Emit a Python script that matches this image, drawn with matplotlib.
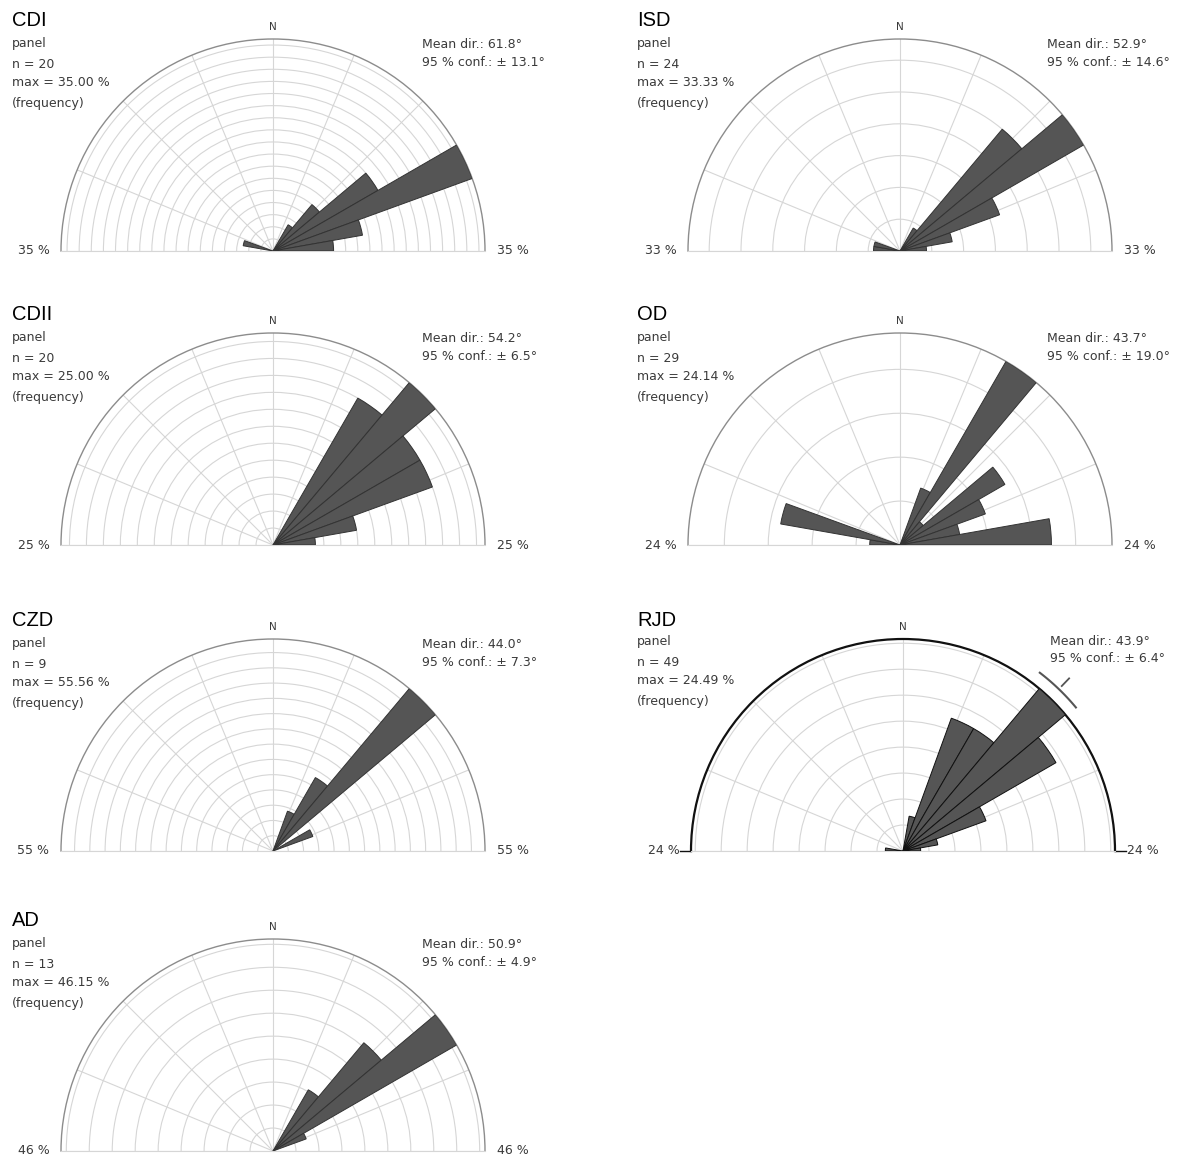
import numpy as np
import matplotlib.pyplot as plt

W, H = 1179, 1157

names = ['CDI', 'ISD', 'CDII', 'OD', 'CZD', 'RJD', 'AD']
sample_n = [20, 24, 20, 29, 9, 49, 13]
mean_dir = [61.8, 52.9, 54.2, 43.7, 44.0, 43.9, 50.9]
conf95 = [13.1, 14.6, 6.5, 19.0, 7.3, 6.4, 4.9]

# start azimuth of each 10 degree bin and the number of panels in it
cdi_bins = [-80, 30, 40, 50, 60, 70, 80]
cdi_counts = [1, 1, 2, 4, 7, 3, 2]
isd_bins = [-90, -80, 30, 40, 50, 60, 70, 80]
isd_counts = [1, 1, 1, 6, 8, 4, 2, 1]
cdii_bins = [30, 40, 50, 60, 70, 80]
cdii_counts = [4, 5, 4, 4, 2, 1]
od_bins = [-90, -80, 20, 30, 40, 50, 60, 70, 80]
od_counts = [1, 4, 2, 7, 1, 4, 3, 2, 5]
czd_bins = [20, 30, 40, 60]
czd_counts = [1, 2, 5, 1]
rjd_bins = [-90, 10, 20, 30, 40, 50, 60, 70, 80]
rjd_counts = [1, 2, 8, 8, 12, 10, 5, 2, 1]
ad_bins = [30, 40, 50, 60]
ad_counts = [2, 4, 6, 1]

all_bins = [cdi_bins, isd_bins, cdii_bins, od_bins, czd_bins, rjd_bins, ad_bins]
all_counts = [cdi_counts, isd_counts, cdii_counts, od_counts, czd_counts,
              rjd_counts, ad_counts]

# layout (pixels)
grid_pos = [(0, 0), (0, 1), (1, 0), (1, 1), (2, 0), (2, 1), (3, 0)]
ring_step = [2, 5, 2, 5, 4, 3, 5]
row_top = [0, 294, 600, 900]
col_left = [12, 637]
col_cx = [273, 900]
R = 212

fig = plt.figure(figsize=(W / 100, H / 100), dpi=100)


def px(x, y):
    return x / W, 1 - y / H


txt_col = '#3a3a3a'
grid_col = '#d6d6d6'

for i, name in enumerate(names):
    row, col = grid_pos[i]
    y0 = row_top[row]
    x0 = col_left[col]
    cx = col_cx[col]
    dy = 0
    if name == 'RJD':
        cx += 3
        dy = -3
    base_y = y0 + 251

    n = sample_n[i]
    pct = np.array(all_counts[i]) / n * 100
    rmax = pct.max()

    fig.text(*px(x0, y0 + 20), name, fontsize=14.5, family='Liberation Sans',
             va='center', ha='left')
    fig.text(*px(x0, y0 + 44 + dy), 'panel', fontsize=9, color=txt_col, va='center')
    fig.text(*px(x0, y0 + 65 + dy), f'n = {n}', fontsize=9, color=txt_col, va='center')
    fig.text(*px(x0, y0 + 83 + dy), f'max = {rmax:.2f} %', fontsize=9,
             color=txt_col, va='center')
    fig.text(*px(x0, y0 + 104 + dy), '(frequency)', fontsize=9, color=txt_col,
             va='center')
    mx = x0 + 410 + (3 if name == 'RJD' else 0)
    fig.text(*px(mx, y0 + 44 + dy), f'Mean dir.: {mean_dir[i]:.1f}°', fontsize=9,
             color=txt_col, va='center')
    fig.text(*px(mx, y0 + 62 + dy), f'95 % conf.: ± {conf95[i]:.1f}°', fontsize=9,
             color=txt_col, va='center')

    # square axes box: the half disc fills its width and sits centred in height
    left, bottom = px(cx - R, base_y + R / 2)
    ax = fig.add_axes([left, bottom, 2 * R / W, 2 * R / H], projection='polar')
    ax.set_theta_zero_location('N')
    ax.set_theta_direction(-1)
    ax.set_thetamin(-90)
    ax.set_thetamax(90)

    edge = '#111111' if name == 'RJD' else '#333333'
    ax.bar(np.radians(all_bins[i]), pct, width=np.radians(10), align='edge',
           color='#555555', edgecolor=edge, linewidth=0.7, zorder=3)

    ax.set_rlim(0, rmax)
    ax.set_rticks(np.arange(ring_step[i], rmax - 0.01, ring_step[i]))
    ax.set_yticklabels([])
    ax.set_thetagrids(np.arange(-90, 91, 22.5), labels=[])
    ax.tick_params(length=0)
    ax.grid(color=grid_col, linewidth=0.8)
    ax.set_axisbelow(True)
    for s in ('start', 'end'):
        ax.spines[s].set_color(grid_col)
        ax.spines[s].set_linewidth(0.8)

    if name == 'RJD':
        ax.spines['polar'].set_color('#111111')
        ax.spines['polar'].set_linewidth(1.6)
        for th in (-90, 90):
            ax.plot([np.radians(th)] * 2, [rmax, rmax * 1.05], color='#111111',
                    linewidth=1.0, clip_on=False)
        arc = np.radians(np.linspace(mean_dir[i] - conf95[i],
                                     mean_dir[i] + conf95[i], 40))
        ax.plot(arc, np.full_like(arc, rmax * 1.06), color='#555555',
                linewidth=1.5, clip_on=False)
        ax.plot([np.radians(mean_dir[i])] * 2, [rmax * 1.08, rmax * 1.13],
                color='#555555', linewidth=1.3, clip_on=False)
    else:
        ax.spines['polar'].set_color('#8c8c8c')
        ax.spines['polar'].set_linewidth(1.0)

    ax.text(0, rmax * 1.055, 'N', ha='center', va='center', fontsize=7.5,
            color=txt_col)
    for th in (-90, 90):
        ax.text(np.radians(th), rmax * 1.13, f'{int(rmax)} %', ha='center',
                va='center', fontsize=9, color=txt_col)

fig.savefig('out.png', dpi=100)
